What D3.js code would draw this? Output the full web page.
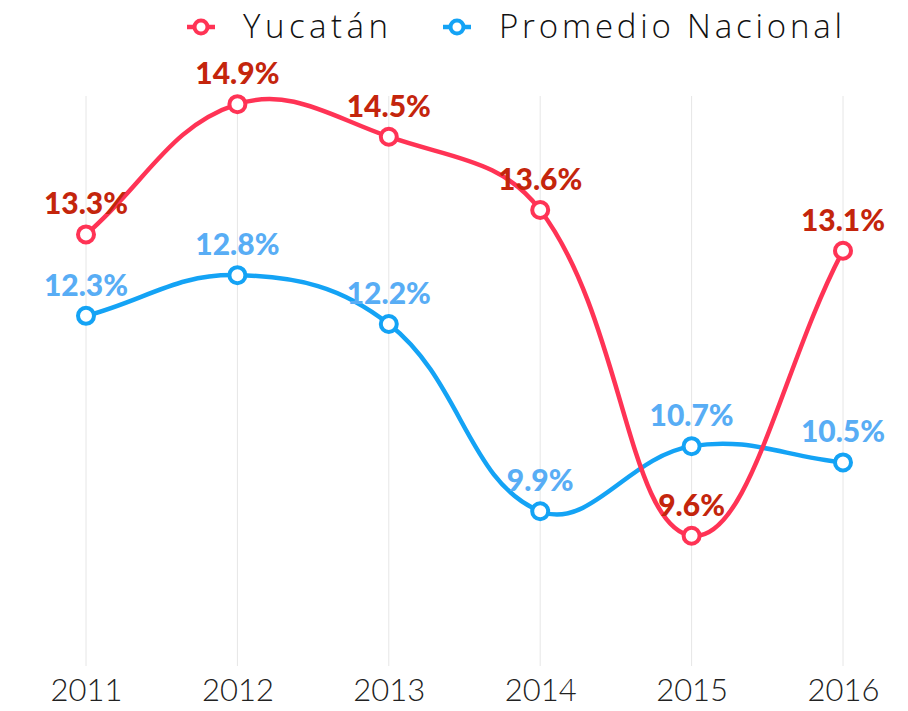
<!DOCTYPE html>
<html>
<head>
<meta charset="utf-8">
<script src="https://cdn.jsdelivr.net/npm/d3@7"></script>
<style>
  body { margin: 0; background: #fff; }
</style>
</head>
<body>
<script>
// years on the x axis
const years = ["2011", "2012", "2013", "2014", "2015", "2016"];
// values (%)
const yucatan = [13.3, 14.9, 14.5, 13.6, 9.6, 13.1];
const nacional = [12.3, 12.8, 12.2, 9.9, 10.7, 10.5];
const seriesNames = ["Yucatán", "Promedio Nacional"];

const width = 908, height = 711;

const x = d3.scalePoint()
  .domain(years)
  .range([86, 843]);

const y = d3.scaleLinear()
  .domain([8, 15])
  .range([666, 96]);

// spline with distance-weighted control points (tension 0.4)
function splineCurve(context) {
  let pts;
  const t = 0.4;
  return {
    areaStart() {}, areaEnd() {},
    lineStart() { pts = []; },
    point(px, py) { pts.push([+px, +py]); },
    lineEnd() {
      const n = pts.length;
      const cps = pts.map((cur, i) => {
        const prev = pts[Math.max(i - 1, 0)], next = pts[Math.min(i + 1, n - 1)];
        const d01 = Math.hypot(cur[0] - prev[0], cur[1] - prev[1]);
        const d12 = Math.hypot(next[0] - cur[0], next[1] - cur[1]);
        let s01 = d01 / (d01 + d12), s12 = d12 / (d01 + d12);
        if (isNaN(s01)) s01 = 0;
        if (isNaN(s12)) s12 = 0;
        const fa = t * s01, fb = t * s12;
        return {
          prev: [cur[0] - fa * (next[0] - prev[0]), cur[1] - fa * (next[1] - prev[1])],
          next: [cur[0] + fb * (next[0] - prev[0]), cur[1] + fb * (next[1] - prev[1])]
        };
      });
      context.moveTo(pts[0][0], pts[0][1]);
      for (let i = 1; i < n; i++) {
        const a = cps[i - 1].next, b = cps[i].prev;
        context.bezierCurveTo(a[0], a[1], b[0], b[1], pts[i][0], pts[i][1]);
      }
    }
  };
}

const svg = d3.select("body").append("svg")
  .attr("width", width)
  .attr("height", height);

// vertical grid lines
svg.append("g")
  .selectAll("line")
  .data(years)
  .join("line")
    .attr("x1", d => x(d))
    .attr("x2", d => x(d))
    .attr("y1", y(15))
    .attr("y2", y(8))
    .attr("stroke", "#e6e6e6")
    .attr("stroke-width", 1);

// x axis labels
const xAxis = svg.append("g")
  .attr("transform", `translate(0,${y(8)})`)
  .call(d3.axisBottom(x).tickSize(0).tickPadding(13));
xAxis.select(".domain").remove();
xAxis.selectAll("text")
  .attr("font-family", "Lato, sans-serif")
  .attr("font-weight", 300)
  .attr("font-size", 31)
  .attr("fill", "#222");

const series = [
  {name: seriesNames[0], values: yucatan, line: "#ff3355", label: "#c4250c"},
  {name: seriesNames[1], values: nacional, line: "#14a3f5", label: "#58adf5"}
];

const line = d3.line()
  .x((d, i) => x(years[i]))
  .y(d => y(d))
  .curve(splineCurve);

// draw blue first so red sits on top
series.slice().reverse().forEach(s => {
  svg.append("path")
    .datum(s.values)
    .attr("fill", "none")
    .attr("stroke", s.line)
    .attr("stroke-width", 4.5)
    .attr("d", line);
});

series.forEach(s => {
  svg.append("g")
    .selectAll("circle")
    .data(s.values)
    .join("circle")
      .attr("cx", (d, i) => x(years[i]))
      .attr("cy", d => y(d))
      .attr("r", 8)
      .attr("fill", "#fff")
      .attr("stroke", s.line)
      .attr("stroke-width", 4);
});

series.forEach(s => {
  svg.append("g")
    .selectAll("text")
    .data(s.values)
    .join("text")
      .attr("x", (d, i) => x(years[i]))
      .attr("y", d => y(d) - 20)
      .attr("text-anchor", "middle")
      .attr("font-family", "Lato, sans-serif")
      .attr("font-weight", 900)
      .attr("font-size", 30)
      .attr("fill", s.label)
      .text(d => d.toFixed(1) + "%");
});

// legend
const legendX = [201, 457];
const legendW = [145, 343];
const legend = svg.append("g");
series.forEach((s, i) => {
  const lg = legend.append("g").attr("transform", `translate(${legendX[i]},27)`);
  lg.append("line")
    .attr("x1", -14).attr("x2", 14)
    .attr("stroke", s.line)
    .attr("stroke-width", 4.5);
  lg.append("circle")
    .attr("r", 6.5)
    .attr("fill", "#fff")
    .attr("stroke", s.line)
    .attr("stroke-width", 4);
  lg.append("text")
    .attr("x", 42)
    .attr("y", 11)
    .attr("font-family", "'Open Sans', sans-serif")
    .attr("font-weight", 300)
    .attr("font-size", 33)
    .attr("fill", "#111")
    .attr("textLength", legendW[i])
    .attr("lengthAdjust", "spacing")
    .text(s.name);
});
</script>
</body>
</html>
